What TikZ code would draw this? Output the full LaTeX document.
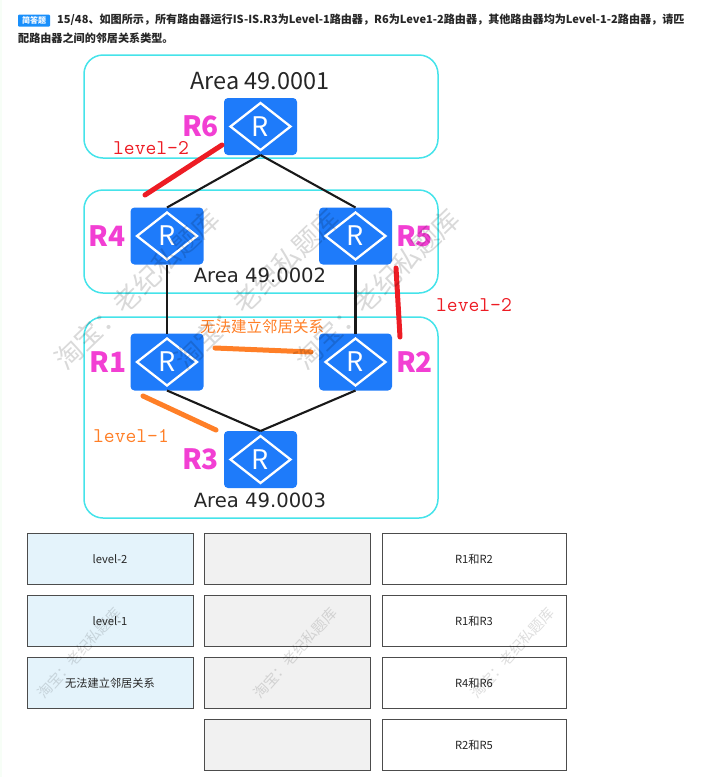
\documentclass[tikz,border=0pt]{standalone}
\usepackage{fontspec}
\usepackage{tikz}
\usetikzlibrary{positioning}
\setmainfont{Noto Sans CJK SC}
\newfontfamily\areafont{DejaVu Sans}
\definecolor{routerblue}{HTML}{1E7BFA}
\definecolor{areacyan}{HTML}{45E3EA}
\definecolor{namepink}{HTML}{F23FD3}
\definecolor{markred}{HTML}{ED1C24}
\definecolor{markorange}{HTML}{FF7F27}
\definecolor{cellblue}{HTML}{E4F3FB}
\definecolor{cellgray}{HTML}{F1F1F1}

\begin{document}
\begin{tikzpicture}[x=1pt, y=-1pt, on grid,
router/.style = {rectangle, rounded corners=4pt, fill=routerblue, text=white, minimum width=73pt, minimum height=57pt, inner sep=0pt, outer sep=0pt, font=\fontsize{27}{27}\selectfont,
  path picture={\draw[white, sharp corners, line width=2.3pt] ([xshift=-30pt]path picture bounding box.center) -- ([yshift=23.5pt]path picture bounding box.center) -- ([xshift=30pt]path picture bounding box.center) -- ([yshift=-23.5pt]path picture bounding box.center) -- cycle;}},
area/.style = {draw=areacyan, line width=1.5pt, rounded corners=19pt, minimum width=354pt, inner sep=0pt, outer sep=0pt},
rname/.style = {text=namepink, font=\bfseries\fontsize{28}{28}\selectfont},
arealabel/.style = {text=black!85, font=\areafont\fontsize{19.6}{19.6}\selectfont},
link/.style = {black!90, line width=2.1pt},
stroke/.style = {line width=5pt, line cap=round},
lvl/.style = {font=\ttfamily\fontsize{21}{21}\selectfont},
cell/.style = {draw=black!70, line width=.8pt, minimum height=51pt, inner sep=0pt, outer sep=0pt, font=\fontsize{11.2}{11.2}\selectfont, text=black!85},
answer/.style = {cell, fill=cellblue, minimum width=166pt},
slot/.style = {cell, fill=cellgray, minimum width=166pt},
pair/.style = {cell, fill=white, minimum width=184pt},
stamp/.style = {text=black, text opacity=.15, rotate=44, font=\fontsize{27}{27}\selectfont},
stampsmall/.style = {text=black, text opacity=.13, rotate=48, font=\fontsize{14.5}{14.5}\selectfont},
question/.style = {anchor=west, text=black!85, font=\bfseries\fontsize{11.1}{11.1}\selectfont, inner sep=0pt}]
\useasboundingbox (0,0) rectangle (726,777);
\fill[black!8!green!3!white] (0,0) rectangle (2,777);

% question text
\node[fill=routerblue!85!cyan, text=white, rounded corners=1pt, minimum width=32pt, minimum height=12pt, inner sep=0pt, font=\bfseries\fontsize{8}{8}\selectfont] (badge) at (34,20.5) {简答题};
\node[question] (line1) at (57,20) {15/48、如图所示，所有路由器运行IS-IS.R3为Level-1路由器，R6为Leve1-2路由器，其他路由器均为Level-1-2路由器，请匹};
\node[question] (line2) at (18,38) {配路由器之间的邻居关系类型。};

% areas
\node[area, minimum height=103pt] (a1) at (261,106.5) {};
\node[area, minimum height=103pt] (a2) at (261,241.5) {};
\node[area, minimum height=201pt] (a3) at (261,417.5) {};
\node[text=black!85, font=\fontsize{23.5}{23.5}\selectfont] (t1) at (260,81) {Area 49.0001};
\node[arealabel] (t2) at (260,275) {Area 49.0002};
\node[arealabel] (t3) at (260,500) {Area 49.0003};

% routers
\node[router] (r6) at (260.5,126.5) {R};
\node[router] (r4) [below left = 109.5pt and 93.5pt of r6] {R};
\node[router] (r5) [below right = 109.5pt and 95pt of r6] {R};
\node[router] (r1) [below = 126pt of r4] {R};
\node[router] (r2) [below = 126pt of r5] {R};
\node[router] (r3) [below = 333pt of r6] {R};

\node[rname] (n6) [left = 60pt of r6] {R6};
\node[rname] (n4) [left = 60pt of r4] {R4};
\node[rname] (n5) [right = 59pt of r5] {R5};
\node[rname] (n1) [left = 59pt of r1] {R1};
\node[rname] (n2) [right = 59pt of r2] {R2};
\node[rname] (n3) [left = 60pt of r3] {R3};

\path[link]
(r6.south) edge (r4.north)
(r6.south) edge (r5.north)
(r4.south) edge (r1.north)
(r5.south) edge (r2.north)
(r1.south) edge (r3.north)
(r2.south) edge (r3.north)
;

% hand marks
\coordinate (m1) at (222,145);
\coordinate (m2) at (145,195);
\coordinate (m3) at (396,268);
\coordinate (m4) at (400,337);
\coordinate (m5) at (215,348);
\coordinate (m6) at (311,352);
\coordinate (m7) at (143,396);
\coordinate (m8) at (216,430);
\draw[stroke, markred] (m1) -- (m2);
\draw[stroke, markred] (m3) -- (m4);
\draw[stroke, markorange] (m5) -- (m6);
\draw[stroke, markorange] (m7) -- (m8);
\node[lvl, text=markred] (l1) at (151,148) {level-2};
\node[lvl, text=markred] (l2) at (474,305) {level-2};
\node[lvl, text=markorange] (l3) at (131,436) {level-1};
\node[text=markorange, font=\fontsize{15.5}{15.5}\selectfont] (l4) at (262,327) {无法建立邻居关系};

% answer table
\node[answer] (c1) at (110,559) {level-2};
\node[answer] (c2) [below = 62pt of c1] {level-1};
\node[answer] (c3) [below = 62pt of c2] {无法建立邻居关系};
\node[slot] (s1) [right = 177.5pt of c1] {};
\node[slot] (s2) [below = 62pt of s1] {};
\node[slot] (s3) [below = 62pt of s2] {};
\node[slot] (s4) [below = 62pt of s3] {};
\node[pair] (p1) [right = 186.5pt of s1] {R1和R2};
\node[pair] (p2) [below = 62pt of p1] {R1和R3};
\node[pair] (p3) [below = 62pt of p2] {R4和R6};
\node[pair] (p4) [below = 62pt of p3] {R2和R5};

% watermarks
\node[stamp] (w1) at (137,289) {淘宝：老纪私题库};
\node[stamp] (w2) at (257,289) {淘宝：老纪私题库};
\node[stamp] (w3) at (377,289) {淘宝：老纪私题库};
\node[stampsmall] (w4) at (79,653) {淘宝：老纪私题库};
\node[stampsmall] (w5) at (295,653) {淘宝：老纪私题库};
\node[stampsmall] (w6) at (512,653) {淘宝：老纪私题库};
\end{tikzpicture}
\end{document}
